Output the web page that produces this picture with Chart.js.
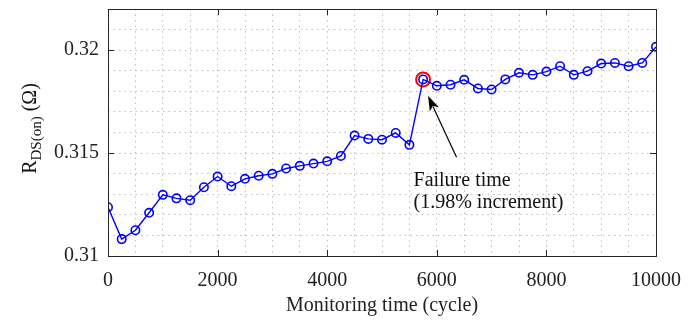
<!DOCTYPE html>
<html>
<head>
<meta charset="utf-8">
<script src="https://cdn.jsdelivr.net/npm/chart.js@4.4.1/dist/chart.umd.min.js"></script>
<style>
  html, body { margin: 0; padding: 0; background: #fff; }
  #wrap { width: 696px; height: 320px; }
</style>
</head>
<body>
<div id="wrap"><canvas id="grafico"></canvas></div>
<script>
// ciclos de monitoramento
const ciclos = [0, 250, 500, 750, 1000, 1250, 1500, 1750, 2000, 2250, 2500, 2750, 3000, 3250, 3500, 3750,
    4000, 4250, 4500, 4750, 5000, 5250, 5500, 5750, 6000, 6250, 6500, 6750, 7000, 7250, 7500, 7750,
    8000, 8250, 8500, 8750, 9000, 9250, 9500, 9750, 10000]
// RDS(on) em ohm
const resistencia = [0.31237, 0.31082, 0.31125, 0.31210, 0.31297, 0.31280, 0.31271, 0.31334, 0.31386, 0.31339,
    0.31375, 0.31390, 0.31399, 0.31425, 0.31438, 0.31449, 0.31460, 0.31486, 0.31585, 0.31569,
    0.31565, 0.31598, 0.31540, 0.31858, 0.31827, 0.31832, 0.31856, 0.31814, 0.31809, 0.31858,
    0.31890, 0.31880, 0.31896, 0.31922, 0.31880, 0.31898, 0.31935, 0.31938, 0.31922, 0.31938, 0.32016]
const cicloFalha = 5750
const resistenciaFalha = 0.31858

const ticksX = [0, 2000, 4000, 6000, 8000, 10000]
const ticksY = [0.31, 0.315, 0.32]
const rotulosY = ['0.31', '0.315', '0.32']

const textoFalha = ['Failure time', '(1.98% increment)']
// posicoes da anotacao em coordenadas de dados
const setaInicio = { x: 6360, y: 0.31480 }
const setaFim = { x: 5840, y: 0.31778 }
const textoPos = { x: 5575, y: 0.31338 }

const fonte = "'Liberation Serif', 'Times New Roman', serif"

const molduraEAnotacao = {
    id: 'molduraEAnotacao',
    afterDatasetsDraw(chart) {
        const { ctx, chartArea: a, scales: { x, y } } = chart
        ctx.save()
        // ticks internos
        ctx.strokeStyle = '#262626'
        ctx.lineWidth = 1
        ctx.beginPath()
        ticksX.forEach(v => {
            const px = Math.round(x.getPixelForValue(v)) + 0.5
            ctx.moveTo(px, a.bottom); ctx.lineTo(px, a.bottom - 6)
            ctx.moveTo(px, a.top); ctx.lineTo(px, a.top + 6)
        })
        ticksY.forEach(v => {
            const py = Math.round(y.getPixelForValue(v)) + 0.5
            ctx.moveTo(a.left, py); ctx.lineTo(a.left + 6, py)
            ctx.moveTo(a.right, py); ctx.lineTo(a.right - 6, py)
        })
        ctx.stroke()
        ctx.strokeRect(Math.round(a.left) + 0.5, Math.round(a.top) + 0.5, Math.round(a.right - a.left), Math.round(a.bottom - a.top))

        // seta
        const x0 = x.getPixelForValue(setaInicio.x), y0 = y.getPixelForValue(setaInicio.y)
        const x1 = x.getPixelForValue(setaFim.x), y1 = y.getPixelForValue(setaFim.y)
        const ang = Math.atan2(y1 - y0, x1 - x0)
        const comp = 15, larg = 5
        ctx.strokeStyle = '#000'
        ctx.lineWidth = 1.2
        ctx.beginPath()
        ctx.moveTo(x0, y0)
        ctx.lineTo(x1 - comp * 0.8 * Math.cos(ang), y1 - comp * 0.8 * Math.sin(ang))
        ctx.stroke()
        ctx.fillStyle = '#000'
        ctx.beginPath()
        ctx.moveTo(x1, y1)
        ctx.lineTo(x1 - comp * Math.cos(ang) + larg * Math.sin(ang), y1 - comp * Math.sin(ang) - larg * Math.cos(ang))
        ctx.lineTo(x1 - comp * 0.75 * Math.cos(ang), y1 - comp * 0.75 * Math.sin(ang))
        ctx.lineTo(x1 - comp * Math.cos(ang) - larg * Math.sin(ang), y1 - comp * Math.sin(ang) + larg * Math.cos(ang))
        ctx.closePath()
        ctx.fill()

        // texto
        ctx.font = '20px ' + fonte
        ctx.fillStyle = '#111'
        ctx.textBaseline = 'alphabetic'
        ctx.textAlign = 'left'
        const tx = x.getPixelForValue(textoPos.x), ty = y.getPixelForValue(textoPos.y)
        textoFalha.forEach((t, i) => ctx.fillText(t, tx, ty + i * 22))

        // titulo do eixo y com subscrito
        ctx.translate(36, (a.top + a.bottom) / 2 - 4)
        ctx.rotate(-Math.PI / 2)
        const partes = [
            { t: 'R', f: '20px ' + fonte, dy: 0 },
            { t: 'DS(on)', f: '15px ' + fonte, dy: 5 },
            { t: ' (\u03A9)', f: '20px ' + fonte, dy: 0 }
        ]
        let total = 0
        partes.forEach(p => { ctx.font = p.f; p.w = ctx.measureText(p.t).width; total += p.w })
        let cx = -total / 2
        partes.forEach(p => { ctx.font = p.f; ctx.fillText(p.t, cx, p.dy); cx += p.w })
        ctx.restore()
    }
}

const grafico = new Chart(document.getElementById('grafico'), {
    type: 'line',
    data: {
        datasets: [
            {
                label: 'RDS(on)',
                data: ciclos.map((c, i) => ({ x: c, y: resistencia[i] })),
                borderColor: '#0000ff',
                backgroundColor: 'transparent',
                borderWidth: 1.4,
                pointRadius: 4.2,
                pointBorderWidth: 1.6,
                pointBorderColor: '#0000ff',
                pointBackgroundColor: 'transparent',
                tension: 0
            },
            {
                label: 'Falha',
                data: [{ x: cicloFalha, y: resistenciaFalha }],
                showLine: false,
                pointRadius: 7,
                pointBorderWidth: 2,
                pointBorderColor: '#ff0000',
                pointBackgroundColor: 'transparent'
            }
        ]
    },
    options: {
        responsive: true,
        maintainAspectRatio: false,
        animation: false,
        events: [],
        layout: { padding: { left: 0, right: 40, top: 9, bottom: 0 } },
        plugins: {
            legend: { display: false },
            tooltip: { enabled: false }
        },
        scales: {
            x: {
                type: 'linear',
                min: 0,
                max: 10000,
                afterFit: s => { s.height = 64 },
                ticks: {
                    stepSize: 500,
                    autoSkip: false,
                    maxRotation: 0,
                    padding: 13,
                    color: '#222',
                    font: { family: fonte, size: 20 },
                    callback: v => ticksX.includes(v) ? String(v) : ''
                },
                grid: { color: '#bdbdbd', lineWidth: 1, drawTicks: false },
                border: { display: false, dash: [1.5, 4] },
                title: {
                    display: true,
                    text: 'Monitoring time (cycle)',
                    color: '#222',
                    font: { family: fonte, size: 20 },
                    padding: { top: 0, bottom: 2 }
                }
            },
            y: {
                type: 'linear',
                min: 0.31,
                max: 0.322,
                afterFit: s => { s.width = 108; s.paddingTop = 0; s.paddingBottom = 0 },
                ticks: {
                    stepSize: 0.001,
                    autoSkip: false,
                    padding: 9,
                    color: '#222',
                    font: { family: fonte, size: 20 },
                    callback: v => {
                        const k = ticksY.findIndex(t => Math.abs(t - v) < 1e-7)
                        return k >= 0 ? rotulosY[k] : ''
                    }
                },
                grid: { color: '#bdbdbd', lineWidth: 1, drawTicks: false },
                border: { display: false, dash: [1.5, 4] }
            }
        }
    },
    plugins: [molduraEAnotacao]
})
</script>
</body>
</html>
